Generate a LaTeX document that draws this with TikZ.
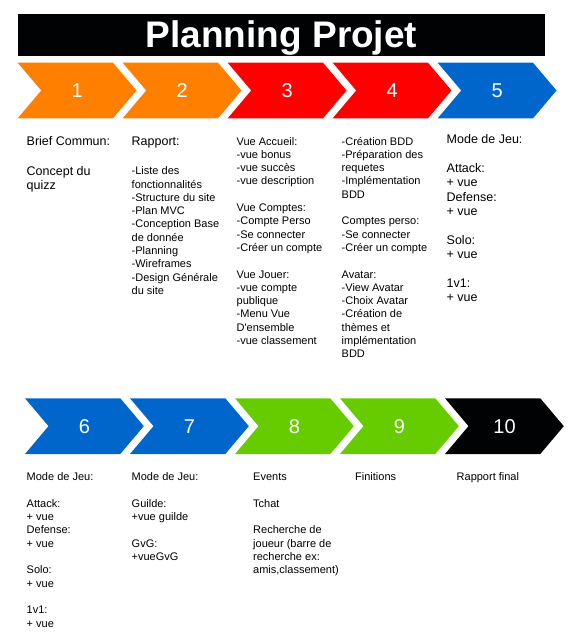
\documentclass[tikz,border=0pt]{standalone}
\usepackage{fontspec}
\setmainfont{Liberation Sans}
\definecolor{cOrange}{HTML}{FF8000}
\definecolor{cRed}{HTML}{FF0000}
\definecolor{cBlue}{HTML}{0066CC}
\definecolor{cGreen}{HTML}{66CC00}
\definecolor{cBlack}{HTML}{000204}
\newcommand{\txtblk}[1]{\begin{tabular}[t]{@{}l@{}}#1\end{tabular}}
\begin{document}
\begin{tikzpicture}[x=1pt,y=-1pt,
  numtxt/.style={text=white,font=\fontsize{20}{24}\selectfont,inner sep=0},
  bodytxt/.style={anchor=base west,inner sep=0,font=\fontsize{11}{13.3}\selectfont},
  bigtxt/.style={anchor=base west,inner sep=0,font=\fontsize{12.5}{14.4}\selectfont},
]
\useasboundingbox (0,0) rectangle (578,638);
\fill[cBlack] (17.7,14) rectangle (545.3,55.7);
\node[anchor=base, text=white, font=\fontsize{37}{40}\selectfont\bfseries, inner sep=0] (title) at (281.5,47.5) {Planning Projet};

\foreach \i/\c/\n in {0/cOrange/1,1/cOrange/2,2/cRed/3,3/cRed/4,4/cBlue/5} {
  \pgfmathsetmacro\xa{17.7+105*\i}
  \fill[\c] (\xa,62.7) -- ++(95.3,0) -- ++(23.5,27.8) -- ++(-23.5,27.8) -- ++(-95.3,0) -- ++(23.5,-27.8) -- cycle;
  \node[numtxt] (n\n) at (\xa+59.5,90.5) {\n};
}
\foreach \i/\c/\n in {0/cBlue/6,1/cBlue/7,2/cGreen/8,3/cGreen/9,4/cBlack/10} {
  \pgfmathsetmacro\xa{25+105*\i}
  \fill[\c] (\xa,398.3) -- ++(95.3,0) -- ++(23.5,27.85) -- ++(-23.5,27.85) -- ++(-95.3,0) -- ++(23.5,-27.85) -- cycle;
  \node[numtxt] (n\n) at (\xa+59.5,426.15) {\n};
}

% Row 1 texts
\node[bigtxt] (c1a) at (26.5,145) {Brief Commun:};
\node[bigtxt] (c1b) at (26.5,175.5) {\txtblk{Concept du\\quizz}};
\node[bigtxt] (c2a) at (131.5,145) {Rapport:};
\node[bodytxt] (c2b) at (131.5,174.7) {\txtblk{-Liste des\\fonctionnalités\\-Structure du site\\-Plan MVC\\-Conception Base\\de donnée\\-Planning\\-Wireframes\\-Design Générale\\du site}};
\node[bodytxt] (c3) at (236.5,145) {\txtblk{Vue Accueil:\\-vue bonus\\-vue succès\\-vue description\\ \\Vue Comptes:\\-Compte Perso\\-Se connecter\\-Créer un compte\\ \\Vue Jouer:\\-vue compte\\publique\\-Menu Vue\\D\textquotesingle ensemble\\-vue classement}};
\node[bodytxt] (c4) at (341.5,145) {\txtblk{-Création BDD\\-Préparation des\\requetes\\-Implémentation\\BDD\\ \\Comptes perso:\\-Se connecter\\-Créer un compte\\ \\Avatar:\\-View Avatar\\-Choix Avatar\\-Création de\\thèmes et\\implémentation\\BDD}};
\node[bigtxt] (c5) at (446.5,143.5) {\txtblk{Mode de Jeu:\\ \\Attack:\\+ vue\\Defense:\\+ vue\\ \\Solo:\\+ vue\\ \\1v1:\\+ vue}};

% Row 2 texts
\node[bodytxt] (c6) at (26.5,480.7) {\txtblk{Mode de Jeu:\\ \\Attack:\\+ vue\\Defense:\\+ vue\\ \\Solo:\\+ vue\\ \\1v1:\\+ vue}};
\node[bodytxt] (c7) at (131.5,480.7) {\txtblk{Mode de Jeu:\\ \\Guilde:\\+vue guilde\\ \\GvG:\\+vueGvG}};
\node[bodytxt] (c8) at (253,480.7) {\txtblk{Events\\ \\Tchat\\ \\Recherche de\\joueur (barre de\\recherche ex:\\amis,classement)}};
\node[bodytxt] (c9) at (355,480.7) {Finitions};
\node[bodytxt] (c10) at (456.5,480.7) {Rapport final};
\end{tikzpicture}
\end{document}
